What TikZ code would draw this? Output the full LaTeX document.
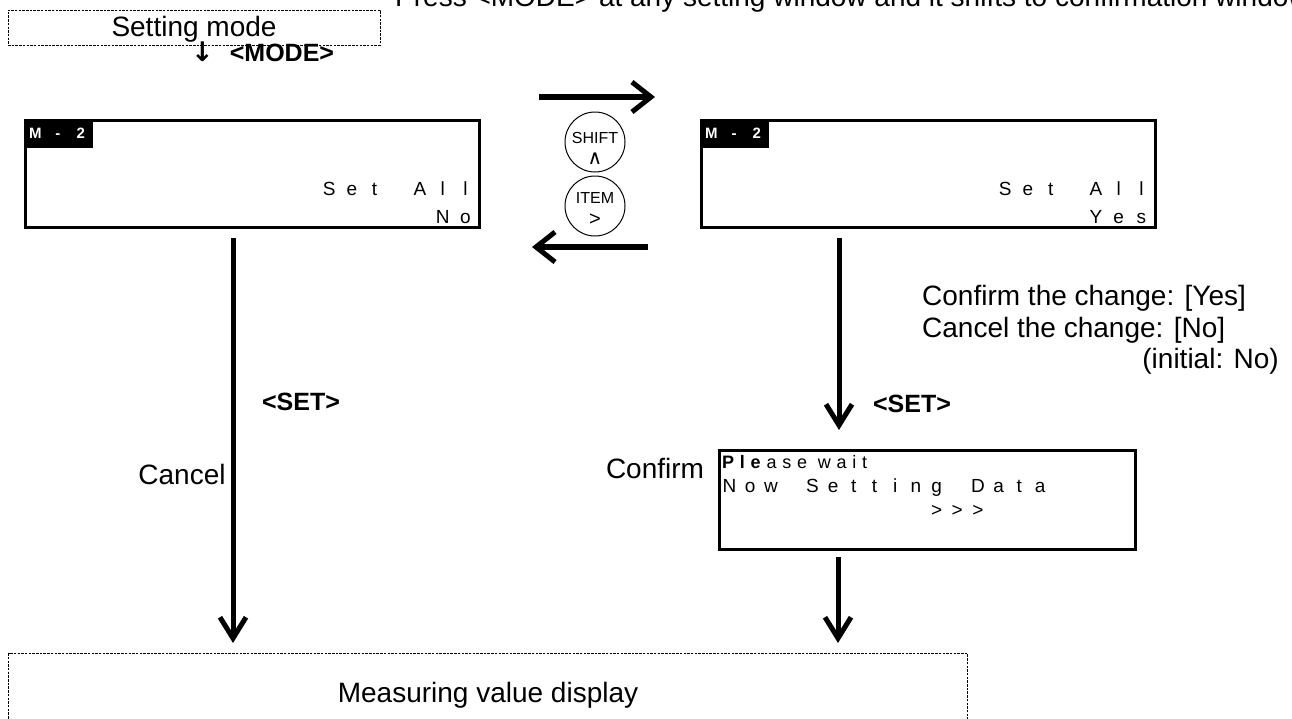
\documentclass[tikz,border=0pt]{standalone}
\usepackage{fontspec}
\setmainfont{Liberation Sans}
\newfontfamily\symfont{DejaVu Sans}
\newfontfamily\waitfont[LetterSpace=32]{Liberation Sans}
\usetikzlibrary{arrows.meta}
\newlength\lcdpitch
\def\lcdloop#1{\ifx\relax#1\else\makebox[\lcdpitch][c]{#1}\expandafter\lcdloop\fi}
\newcommand\lcdrow[2]{\setlength\lcdpitch{#1}\lcdloop#2\relax}
\begin{document}
\begin{tikzpicture}[x=1pt,y=-1pt,
  txt/.style={inner sep=0pt, font=\fontsize{28}{32}\selectfont},
  boldtxt/.style={inner sep=0pt, font=\bfseries\fontsize{25}{28}\selectfont},
  dashbox/.style={draw, dash pattern=on 2.5pt off 1.2pt, line width=1pt, inner sep=0pt},
  lcdbox/.style={draw, line width=3pt, inner sep=0pt, minimum width=454pt, minimum height=107pt, anchor=north west},
  tagbox/.style={fill=black, inner sep=0pt, minimum width=69pt, minimum height=29pt, anchor=north west},
  tagtxt/.style={inner sep=0pt, text=white, font=\bfseries\fontsize{15}{15}\selectfont},
  lcdtxt/.style={inner sep=0pt, font=\fontsize{19}{22}\selectfont},
  keycirc/.style={draw, circle, line width=1pt, minimum size=60pt, inner sep=0pt},
  keytxt/.style={inner sep=0pt, font=\fontsize{16}{19}\selectfont},
  bigarrow/.style={line width=5.5pt, -{Straight Barb[length=19pt,width=30pt,line width=5pt]}},
  vertarrow/.style={line width=5pt, -{Straight Barb[length=21pt,width=26pt,line width=5pt]}}
]
\useasboundingbox (0,0) rectangle (1292,718);

% header text (cut by the top edge)
\node[txt, anchor=base west] (hint) at (395,6) {Press <MODE> at any setting window and it shifts to confirmation window.};

% Setting mode
\node[dashbox, minimum width=372pt, minimum height=35pt] (setmode) at (194,27.5) {};
\node[txt, anchor=base] (setmodetxt) at (194,36) {Setting mode};
\node[boldtxt, anchor=base west] (modelbl) at (191,61) {{\symfont\bfseries\fontsize{27}{28}\selectfont ↓}\hspace{16pt}<MODE>};

% LCD left
\node[lcdbox] (lcdL) at (23.5,118.5) {};
\node[tagbox] (tagL) at (lcdL.north west) {};
\node[tagtxt, anchor=base] (tagLtxt) at (58,138) {\lcdrow{22.7pt}{M-2}};
\node[lcdtxt, anchor=base east] (setallL) at (477,195) {\lcdrow{22.7pt}{Set~All}};
\node[lcdtxt, anchor=base east] (noL) at (477,223) {\lcdrow{22.7pt}{No}};

% LCD right
\node[lcdbox] (lcdR) at (699.5,118.5) {};
\node[tagbox] (tagR) at (lcdR.north west) {};
\node[tagtxt, anchor=base] (tagRtxt) at (734,138) {\lcdrow{22.7pt}{M-2}};
\node[lcdtxt, anchor=base east] (setallR) at (1153,195) {\lcdrow{22.7pt}{Set~All}};
\node[lcdtxt, anchor=base east] (yesR) at (1153,223) {\lcdrow{22.7pt}{Yes}};

% keys
\node[keycirc] (shift) at (595,142) {};
\node[keytxt, anchor=base] (shifttxt) at (595,143) {SHIFT};
\node[keytxt, anchor=base] (shiftsym) at (595,164) {\symfont\fontsize{20}{20}\selectfont ∧};
\node[keycirc] (item) at (595,206) {};
\node[keytxt, anchor=base] (itemtxt) at (595,203) {ITEM};
\node[keytxt, anchor=base] (itemsym) at (595,225) {\fontsize{20}{20}\selectfont >};

% horizontal arrows
\coordinate (ra1) at (539,97);
\coordinate (ra2) at (655,97);
\coordinate (la1) at (648,247);
\coordinate (la2) at (532,247);
\draw[bigarrow] (ra1) -- (ra2);
\draw[bigarrow] (la1) -- (la2);

% Please wait box
\node[draw, line width=2.5pt, inner sep=0pt, anchor=north west, minimum width=416pt, minimum height=99pt] (wait) at (718.25,449.25) {};
\node[lcdtxt, anchor=base west] (waitl1) at (722,468) {\waitfont\fontsize{18}{20}\selectfont\textbf{Ple}ase wait};
\node[lcdtxt, anchor=base west] (waitl2) at (719,492) {\lcdrow{20.7pt}{Now~Setting~Data}};
\node[lcdtxt, anchor=base west] (waitl3) at (926,516) {\lcdrow{20.7pt}{>>>}};

% Measuring value display
\node[dashbox, anchor=north west, minimum width=959pt, minimum height=110pt] (meas) at (8,653) {};
\node[txt, anchor=base] (meastxt) at (488,702) {Measuring value display};

% vertical arrows
\coordinate (vL1) at (233,238);
\coordinate (vL2) at (233,643);
\coordinate (vR1) at (839,238);
\coordinate (vR2) at (839,430);
\coordinate (vB1) at (838,557);
\coordinate (vB2) at (838,643);
\draw[vertarrow] (vL1) -- (vL2);
\draw[vertarrow] (vR1) -- (vR2);
\draw[vertarrow] (vB1) -- (vB2);

% labels
\node[boldtxt, anchor=base] (setL) at (301,410) {<SET>};
\node[boldtxt, anchor=base] (setR) at (912,412) {<SET>};
\node[txt, anchor=base] (cancel) at (182,484) {Cancel};
\node[txt, anchor=base] (confirm) at (655,478) {Confirm};
\node[txt, anchor=base west] (conf1) at (922,305) {Confirm the change: [Yes]};
\node[txt, anchor=base west] (conf2) at (922,337) {Cancel the change: [No]};
\node[txt, anchor=base east] (conf3) at (1279,368) {(initial: No)};
\end{tikzpicture}
\end{document}
